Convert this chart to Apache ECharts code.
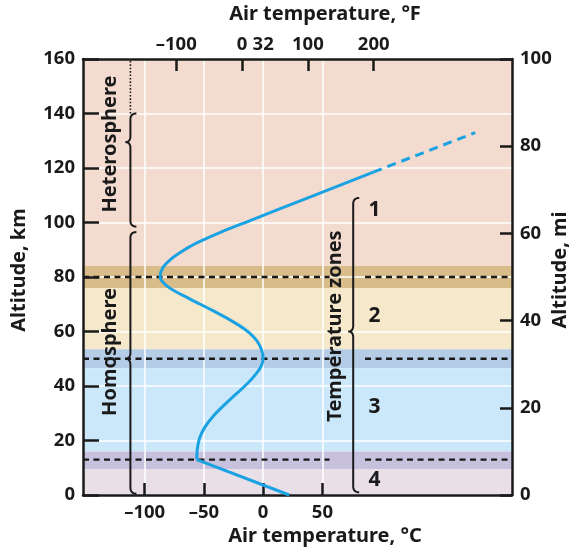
<!DOCTYPE html>
<html>
<head>
<meta charset="utf-8">
<script src="https://cdn.jsdelivr.net/npm/echarts@6/dist/echarts.min.js"></script>
<style>
  html, body { margin: 0; padding: 0; background: #fff; }
  #chart { width: 569px; height: 548px; }
</style>
</head>
<body>
<div id="chart"></div>
<script>
// temperature profile, °C against altitude in km
const lowerC = [22, -56];
const lowerKm = [0, 13];
const upperC = [-56, -55.5, -53.5, -49, -42, -33, -23, -13, -5, -1.5, 0, -0.5, -3, -8, -16, -27, -44, -62, -79, -87, -84.5, -78, -70, -56, -35, -11, 41, 93];
const upperKm = [13, 17, 21, 25, 29, 33, 37, 41, 45, 47.5, 50, 52, 55, 58, 61, 64, 68, 72, 76, 80, 83.5, 86.5, 89, 92.5, 96.6, 100.7, 109.6, 118.5];
const extrapC = [93, 179];
const extrapKm = [118.5, 133];

// axis ticks
const cTicks = [-100, -50, 0, 50];
const fTicks = [-100, 0, 100, 200];
const fLabels = [-100, 0, 32, 100, 200];

// shaded layers (km)
const bandLowKm = [84, 76, 53.5, 46.5, 16, 9.5, 0];
const bandHighKm = [160, 84, 76, 53.5, 46.5, 16, 9.5];
const bandColors = ['#f3dccf', '#d8bd8a', '#f6e9cb', '#b5cce6', '#cbe8fb', '#c7c1dd', '#e9dfe7'];

// boundaries (km) and the gap in them (°C)
const boundaryKm = [80, 50, 13];
const boundaryGapC = [56, 86];

// braces: x in °C, top / cusp / bottom in km
const braceC = [-112, -112, 76];
const braceTopKm = [140, 96.5, 109];
const braceCuspKm = [129.5, 50, 60];
const braceBottomKm = [98.5, 0.5, 1];
const dottedKm = [140, 160];

// annotations
const noteText = ['Heterosphere', 'Homosphere', 'Temperature zones'];
const noteC = [-129, -129, 61];
const noteKm = [128.8, 52.5, 62];
const zoneText = ['1', '2', '3', '4'];
const zoneC = [94, 94, 94, 94];
const zoneKm = [104.4, 65.6, 32.2, 5.5];

const xMin = -152, xMax = 210;
const cToF = (c) => c * 9 / 5 + 32;
const dash = (v) => (v < 0 ? '\u2013' + Math.abs(v) : String(v));
const ink = '#1a1a1a';
const font = '"Noto Sans", sans-serif';

function quad(pts, p0, c, p1) {
  for (let i = 1; i <= 8; i++) {
    const t = i / 8, u = 1 - t;
    pts.push([u * u * p0[0] + 2 * u * t * c[0] + t * t * p1[0], u * u * p0[1] + 2 * u * t * c[1] + t * t * p1[1]]);
  }
}

function bracePoints(x, yTop, yCusp, yBot) {
  const r = 6, d = 5, r2 = 6;
  const pts = [[x + r, yTop]];
  quad(pts, [x + r, yTop], [x, yTop], [x, yTop + r]);
  pts.push([x, yCusp - r2]);
  quad(pts, [x, yCusp - r2], [x, yCusp], [x - d, yCusp]);
  quad(pts, [x - d, yCusp], [x, yCusp], [x, yCusp + r2]);
  pts.push([x, yBot - r]);
  quad(pts, [x, yBot - r], [x, yBot], [x + r, yBot]);
  return pts;
}

const chart = echarts.init(document.getElementById('chart'));

const labelStyle = { color: ink, fontFamily: font, fontWeight: 'bold', fontSize: 18.5 };
const nameStyle = { color: ink, fontFamily: font, fontWeight: 'bold', fontSize: 20 };
const frame = { show: true, onZero: false, lineStyle: { color: ink, width: 2.5 } };

const option = {
  animation: false,
  grid: { left: 83, right: 57, top: 59, bottom: 53, containLabel: false, outerBoundsMode: 'none' },
  xAxis: [
    {
      type: 'value', position: 'bottom', min: xMin, max: xMax, z: 3,
      axisLine: frame,
      axisTick: { inside: true, length: 12, customValues: cTicks, lineStyle: { color: ink, width: 2.5 } },
      axisLabel: Object.assign({ customValues: cTicks, margin: 8, formatter: dash }, labelStyle),
      splitLine: { show: true, lineStyle: { color: '#ffffff', width: 1.5 } },
      name: 'Air temperature, \u00B0C', nameLocation: 'middle', nameGap: 31, nameMoveOverlap: false,
      nameTextStyle: Object.assign({ padding: [0, 0, 0, 55] }, nameStyle)
    },
    {
      type: 'value', position: 'top', min: cToF(xMin), max: cToF(xMax), z: 3,
      axisLine: frame,
      axisTick: { inside: true, length: 12, customValues: fTicks, lineStyle: { color: ink, width: 2.5 } },
      axisLabel: Object.assign({ customValues: fLabels, margin: 5, formatter: dash }, labelStyle),
      splitLine: { show: false },
      name: 'Air temperature, \u00B0F', nameLocation: 'middle', nameGap: 35, nameMoveOverlap: false,
      nameTextStyle: Object.assign({ padding: [0, 0, 0, 55] }, nameStyle)
    }
  ],
  yAxis: [
    {
      type: 'value', position: 'left', min: 0, max: 160, interval: 20, z: 3,
      axisLine: frame,
      axisTick: { inside: true, length: 16, lineStyle: { color: ink, width: 2.5 } },
      axisLabel: Object.assign({ margin: 8 }, labelStyle),
      splitLine: { show: true, lineStyle: { color: '#ffffff', width: 1.5 } },
      name: 'Altitude, km', nameLocation: 'middle', nameGap: 54, nameRotate: 90, nameMoveOverlap: false,
      nameTextStyle: Object.assign({ padding: [0, 0, 0, 14] }, nameStyle)
    },
    {
      type: 'value', position: 'right', min: 0, max: 100, interval: 20, z: 3,
      axisLine: frame,
      axisTick: { inside: true, length: 12, lineStyle: { color: ink, width: 2.5 } },
      axisLabel: Object.assign({ margin: 8 }, labelStyle),
      splitLine: { show: false },
      name: 'Altitude, mi', nameLocation: 'middle', nameGap: 38, nameRotate: 90, nameMoveOverlap: false,
      nameTextStyle: Object.assign({ padding: [0, 0, 0, 14] }, nameStyle)
    }
  ],
  series: [
    {
      name: 'layers', type: 'custom', xAxisIndex: 0, yAxisIndex: 0, z: 1, silent: true,
      data: bandLowKm.map((lo, i) => [lo, bandHighKm[i]]),
      renderItem(params, api) {
        const a = api.coord([xMin, api.value(1)]);
        const b = api.coord([xMax, api.value(0)]);
        return {
          type: 'rect',
          shape: { x: a[0], y: a[1], width: b[0] - a[0], height: b[1] - a[1] },
          style: { fill: bandColors[params.dataIndex] }
        };
      }
    },
    {
      name: 'boundaries', type: 'custom', xAxisIndex: 0, yAxisIndex: 0, z: 4, silent: true,
      data: boundaryKm.map((k) => [k]),
      renderItem(params, api) {
        const k = api.value(0);
        const p0 = api.coord([xMin, k]), p1 = api.coord([boundaryGapC[0], k]);
        const p2 = api.coord([boundaryGapC[1], k]), p3 = api.coord([xMax, k]);
        const st = { stroke: ink, lineWidth: 2.4, lineDash: [6, 4.5] };
        return {
          type: 'group',
          children: [
            { type: 'line', shape: { x1: p0[0], y1: p0[1], x2: p1[0], y2: p1[1] }, style: st },
            { type: 'line', shape: { x1: p2[0], y1: p2[1], x2: p3[0], y2: p3[1] }, style: st }
          ]
        };
      }
    },
    {
      name: 'braces', type: 'custom', xAxisIndex: 0, yAxisIndex: 0, z: 6, silent: true,
      data: braceC.map((c, i) => [c, braceTopKm[i], braceCuspKm[i], braceBottomKm[i]]),
      renderItem(params, api) {
        const x = api.coord([api.value(0), 0])[0];
        const yT = api.coord([0, api.value(1)])[1];
        const yC = api.coord([0, api.value(2)])[1];
        const yB = api.coord([0, api.value(3)])[1];
        const children = [{
          type: 'polyline',
          shape: { points: bracePoints(x, yT, yC, yB) },
          style: { stroke: ink, lineWidth: 2, fill: null }
        }];
        if (params.dataIndex === 0) {
          const d0 = api.coord([api.value(0), dottedKm[0]]);
          const d1 = api.coord([api.value(0), dottedKm[1]]);
          children.push({
            type: 'line',
            shape: { x1: d0[0], y1: d0[1], x2: d1[0], y2: d1[1] },
            style: { stroke: ink, lineWidth: 1.6, lineDash: [1.6, 1.8] }
          });
        }
        return { type: 'group', children };
      }
    },
    {
      name: 'notes', type: 'custom', xAxisIndex: 0, yAxisIndex: 0, z: 6, silent: true,
      data: noteC.map((c, i) => [c, noteKm[i]]),
      renderItem(params, api) {
        const p = api.coord([api.value(0), api.value(1)]);
        return {
          type: 'text', x: p[0], y: p[1], rotation: Math.PI / 2,
          style: {
            text: noteText[params.dataIndex], fill: ink, fontFamily: font, fontWeight: 'bold',
            fontSize: 20, align: 'center', verticalAlign: 'middle'
          }
        };
      }
    },
    {
      name: 'zones', type: 'custom', xAxisIndex: 0, yAxisIndex: 0, z: 6, silent: true,
      data: zoneC.map((c, i) => [c, zoneKm[i]]),
      renderItem(params, api) {
        const p = api.coord([api.value(0), api.value(1)]);
        return {
          type: 'text', x: p[0], y: p[1],
          style: {
            text: zoneText[params.dataIndex], fill: ink, fontFamily: font, fontWeight: 'bold',
            fontSize: 21, align: 'center', verticalAlign: 'middle'
          }
        };
      }
    },
    {
      name: 'troposphere', type: 'line', xAxisIndex: 0, yAxisIndex: 0, z: 5,
      data: lowerC.map((c, i) => [c, lowerKm[i]]),
      symbol: 'none', lineStyle: { color: '#1aa2e3', width: 3 }
    },
    {
      name: 'profile', type: 'line', xAxisIndex: 0, yAxisIndex: 0, z: 5,
      data: upperC.map((c, i) => [c, upperKm[i]]),
      smooth: 0.3, symbol: 'none', lineStyle: { color: '#1aa2e3', width: 3 }
    },
    {
      name: 'extrapolated', type: 'line', xAxisIndex: 0, yAxisIndex: 0, z: 5,
      data: extrapC.map((c, i) => [c, extrapKm[i]]),
      symbol: 'none', lineStyle: { color: '#1aa2e3', width: 3, type: [9, 6] }
    }
  ]
};

chart.setOption(option);
</script>
</body>
</html>
